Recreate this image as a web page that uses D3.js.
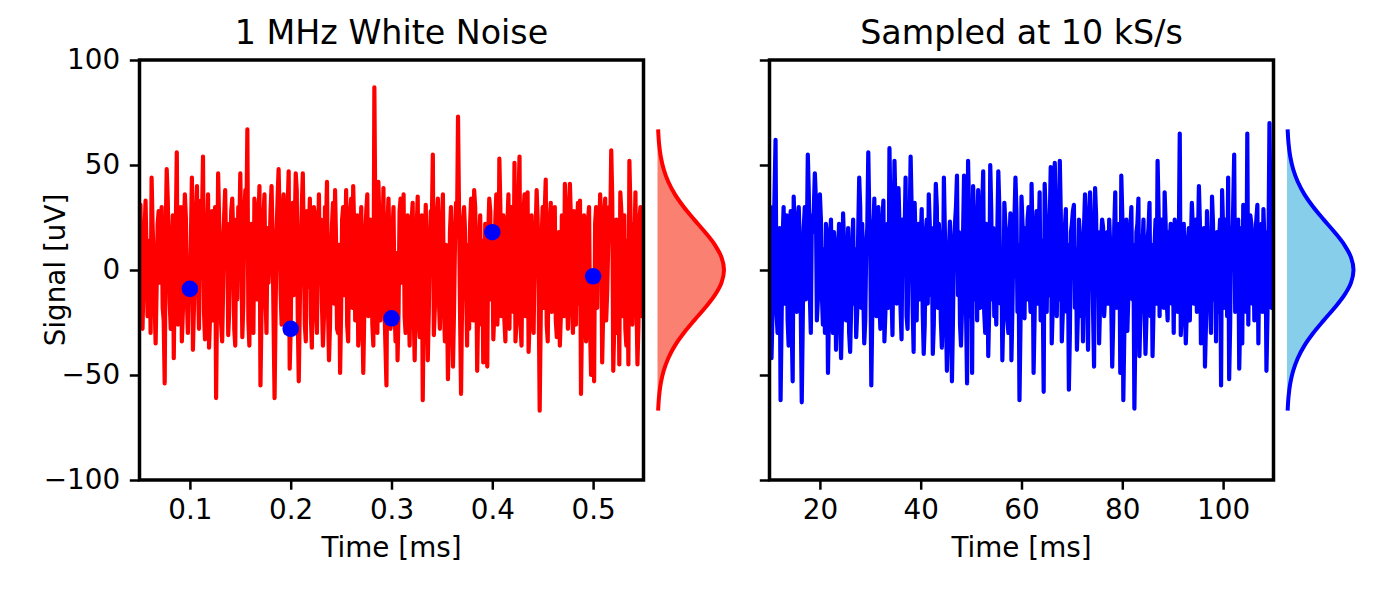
<!DOCTYPE html>
<html><head><meta charset="utf-8">
<script src="https://cdn.jsdelivr.net/npm/d3@7"></script>
<style>body{margin:0;background:#fff;} text{font-family:"DejaVu Sans",sans-serif;fill:#000;}</style>
</head><body><svg id="c" width="1400" height="600"></svg>
<script>
// ---------- data ----------
const leftTitle = "1 MHz White Noise";
const rightTitle = "Sampled at 10 kS/s";
const xLabel = "Time [ms]";
const yLabel = "Signal [uV]";

const leftStart = 0.05, leftPeriod = 0.001;   // ms
const rightStart = 10, rightPeriod = 0.2;     // ms

const leftValues = [
25,31,-12,-28,-5,18,33,8,-22,-10,
14,-30,44,21,5,-16,-35,-8,22,28,
-6,16,30,-18,-24,-54,18,48,34,6,
-16,-28,12,26,-42,2,20,56,-26,-12,
10,30,-34,-20,18,36,25,-14,-30,-4,
-9,15,44,-38,-18,22,28,40,-6,-28,
12,33,24,54,-20,-33,8,16,36,-37,
-22,12,28,-24,6,30,-61,-10,46,24,
14,-26,-34,-8,26,38,4,22,-31,-20,
8,28,34,16,-28,-36,24,-14,30,18,
46,12,-32,-16,26,38,20,67,-24,-36,
6,22,-26,-30,34,28,-14,4,24,40,
-55,-22,8,26,36,-12,-30,20,-6,8,
28,40,16,-24,-61,-20,18,34,48,26,
-10,-26,24,36,-14,-30,6,30,47,-47,
-28,18,32,-12,20,46,38,-22,-53,-18,
14,30,46,12,-26,-34,28,-8,16,34,
-22,-37,14,30,26,-20,-30,10,36,-6,
24,-16,-36,-22,30,20,42,-18,-43,-26,
8,22,32,-16,38,14,-28,-30,12,-49,
-20,24,30,-12,8,38,-26,-34,10,28,
34,-18,40,20,-24,6,26,-36,-28,10,
30,-16,-49,-20,18,28,36,-22,-8,24,
14,-26,-36,87,20,-14,-30,42,22,-24,
28,10,39,-18,-36,-55,22,34,12,-28,
-23,18,30,-16,-34,8,-43,-20,28,34,
-6,12,36,-22,-30,16,26,-14,-36,10,
24,32,-20,-43,-10,20,35,-24,-32,18,
26,-62,-14,12,31,-10,-43,-20,14,28,
22,55,-31,-18,10,26,34,-14,-28,16,
24,36,-18,-34,12,-10,-52,-26,18,30,
6,-46,-20,14,32,20,73,28,-20,-59,
-16,24,30,18,-8,-36,12,-28,22,34,
16,-24,38,30,8,-48,-18,12,26,-26,
14,-44,-30,22,10,-46,18,34,28,-14,
18,-33,-20,24,36,-26,-12,53,30,-22,
8,26,-24,-34,16,22,36,-28,12,30,
20,-20,51,-34,-24,18,34,54,-26,-36,
10,28,36,-22,14,37,-39,-24,20,26,
-20,-30,12,18,38,24,-10,-67,-24,16,
30,-18,28,43,-26,-34,14,24,32,-20,
8,22,30,-24,-32,12,18,-36,-22,26,
16,-22,41,30,-8,-28,10,41,24,-18,
-30,28,12,-26,20,32,-16,33,-59,-22,
18,26,-14,-34,10,24,30,-28,-50,-20,
-3,-53,22,30,-18,28,14,36,20,-44,
-20,26,34,-24,-10,12,30,20,57,34,
-48,-26,18,24,-30,16,-45,37,28,-22,
12,26,-28,-36,14,-45,52,30,-12,-26,
22,10,37,-14,-45,-26,24,30,-22,18
];

const rightValues = [
18,30,-42,-20,12,36,62,-20,-30,8,
20,-62,-24,14,30,-16,10,26,-24,-36,
12,28,-26,-53,35,20,-6,-20,22,30,
14,-18,-63,-24,20,30,-14,10,55,36,
-12,-30,26,18,30,46,34,-24,-14,20,
36,24,-12,-26,10,-30,22,16,-49,-20,
14,24,-22,-30,18,10,-38,-16,6,22,
-16,-42,-20,27,12,14,-24,-10,20,-30,
-39,-18,12,24,-16,10,-32,-20,18,44,
30,-18,22,-10,-35,-24,12,20,56,26,
10,-55,-20,18,34,-6,-22,24,30,-16,
-28,16,24,33,-34,-20,14,22,-18,58,
28,-10,-31,14,52,30,-16,8,39,20,
-18,-33,24,10,16,44,-22,-28,12,20,
54,30,-18,-39,32,12,-24,16,22,-14,
14,29,-20,-40,-26,18,24,-16,36,22,
-12,20,-40,-26,14,41,30,-18,22,12,
-24,-37,-14,44,18,-20,-48,-28,10,23,
-16,-53,-24,14,22,30,45,-12,18,-26,
-36,-18,16,45,24,-20,-54,52,28,-22,
18,-49,40,26,-14,20,-24,38,12,-18,
14,30,47,-20,-30,22,16,-41,-18,50,
28,-14,20,-22,-10,-26,18,47,30,-16,
10,-43,-20,32,22,16,-24,-30,12,27,
-43,-18,14,24,44,28,-20,12,-62,-26,
35,22,10,-23,20,-14,24,30,-8,-20,
41,14,-49,-22,18,28,-16,12,37,-24,
14,-8,-58,41,26,-20,16,-12,22,49,
-35,-18,12,51,30,-22,18,-14,52,26,
-34,-20,14,20,29,-20,12,-57,-30,18,
22,28,31,-18,10,-38,-20,24,16,-22,
12,-34,20,36,18,-10,-38,22,37,24,
10,-20,-46,39,26,-12,18,-35,-16,14,
24,20,-22,-12,16,18,-16,24,12,-14,
-46,-24,20,37,-18,12,-14,22,-49,45,
26,-62,-30,16,24,-29,-12,14,20,30,
-14,12,-66,-28,18,22,34,-41,-20,16,
10,24,-16,-40,-22,14,20,32,-22,12,
-41,-18,12,24,-16,52,28,-22,16,24,
20,-18,37,22,-14,-24,18,12,22,-16,
14,-30,24,12,18,-20,10,65,-31,-18,
16,22,-18,-35,-20,14,20,-24,12,32,
20,-16,18,24,-20,12,40,22,-35,16,
-22,20,-46,-26,28,12,18,-16,-30,35,
22,-14,12,-34,18,-20,14,24,-55,38,
20,-18,24,16,-22,44,-52,-26,20,12,
30,55,-20,18,-16,24,-47,-22,20,-35,
31,22,18,-20,65,-26,14,26,22,-16,
12,-24,18,24,31,-35,16,-14,22,-20,
29,14,18,-48,-22,12,70,26,-18,-12
];

const dotTimes = [0.1, 0.2, 0.3, 0.4, 0.5];
const dotValues = [-9, -28, -23, 18, -3];

const yTicks = [-100, -50, 0, 50, 100];
const leftXTicks = [0.1, 0.2, 0.3, 0.4, 0.5];
const rightXTicks = [20, 40, 60, 80, 100];

// side density profile (relative), sampled at signal levels
const densityLevels = [-66,-60,-54,-48,-42,-36,-30,-24,-18,-12,-6,0,6,12,18,24,30,36,42,48,54,60,66];
const densityValues = [0.011,0.024,0.049,0.093,0.162,0.262,0.395,0.552,0.716,0.862,0.963,1,0.963,0.862,0.716,0.552,0.395,0.262,0.162,0.093,0.049,0.024,0.011];

// ---------- drawing ----------
const svg = d3.select("#c");
const FS = 27.8, TFS = 33.3;
const axTop = 60, axBottom = 480;
const yScale = d3.scaleLinear().domain([-100, 100]).range([axBottom, axTop]);
const fmt = v => String(+v.toFixed(3)).replace("-", "\u2212");

function panel(o) {
  const x = d3.scaleLinear().domain(o.domain).range([o.x0, o.x1]);
  const y = yScale;
  const g = svg.append("g");
  const cid = "clip" + o.id;
  svg.append("clipPath").attr("id", cid).append("rect")
    .attr("x", o.x0).attr("y", axTop).attr("width", o.x1 - o.x0).attr("height", axBottom - axTop);

  const line = d3.line().x((d, i) => x(o.start + i * o.period)).y(d => y(d));
  g.append("path").datum(o.values).attr("d", line)
    .attr("fill", "none").attr("stroke", o.color).attr("stroke-width", 4.2)
    .attr("stroke-linejoin", "round").attr("stroke-linecap", "square")
    .attr("clip-path", `url(#${cid})`);

  if (o.dots) {
    g.selectAll("circle.dot").data(o.dots).join("circle")
      .attr("cx", d => x(d[0])).attr("cy", d => y(d[1])).attr("r", 8.3).attr("fill", "#0000ff");
  }

  const ax = g.append("g").attr("transform", `translate(0,${axBottom})`)
    .call(d3.axisBottom(x).tickValues(o.xTicks).tickSize(9.7).tickPadding(9.7).tickFormat(fmt));
  const ay = g.append("g").attr("transform", `translate(${o.x0},0)`)
    .call(d3.axisLeft(y).tickValues(yTicks).tickSize(9.7).tickPadding(9.7).tickFormat(o.yLabels ? fmt : () => ""));
  [ax, ay].forEach(a => {
    a.select(".domain").remove();
    a.selectAll(".tick line").attr("stroke", "#000").attr("stroke-width", 2.5);
    a.selectAll(".tick text").style("font-size", FS + "px").style("font-family", "DejaVu Sans").attr("fill", "#000");
  });
  g.append("rect").attr("x", o.x0).attr("y", axTop).attr("width", o.x1 - o.x0).attr("height", axBottom - axTop)
    .attr("fill", "none").attr("stroke", "#000").attr("stroke-width", 3.5);

  g.append("text").attr("x", (o.x0 + o.x1) / 2).attr("y", 43.5).attr("text-anchor", "middle")
    .style("font-size", TFS + "px").text(o.title);
  g.append("text").attr("x", (o.x0 + o.x1) / 2).attr("y", 557).attr("text-anchor", "middle")
    .style("font-size", FS + "px").text(xLabel);
  if (o.yLabels) {
    g.append("text").attr("transform", `translate(65,${y(0)}) rotate(-90)`).attr("text-anchor", "middle")
      .style("font-size", FS + "px").text(yLabel);
  }

  const xd = d3.scaleLinear().domain([0, 1]).range([o.d0, o.d0 + 66.5]);
  const pts = densityLevels.map((l, i) => [l, densityValues[i]]);
  const area = d3.area().curve(d3.curveCatmullRom).y(d => y(d[0])).x0(xd(0)).x1(d => xd(d[1]));
  g.append("path").datum(pts).attr("d", area).attr("fill", o.fill);
  const dl = d3.line().curve(d3.curveCatmullRom).y(d => y(d[0])).x(d => xd(d[1]));
  g.append("path").datum(pts).attr("d", dl).attr("fill", "none").attr("stroke", o.color)
    .attr("stroke-width", 4).attr("stroke-linecap", "square");
}

panel({id: "L", x0: 139.5, x1: 643.5, domain: [0.05, 0.55], start: leftStart, period: leftPeriod,
  values: leftValues, color: "#ff0000", fill: "#fa8072", title: leftTitle, xTicks: leftXTicks,
  yLabels: true, d0: 657.5, dots: dotTimes.map((t, i) => [t, dotValues[i]])});
panel({id: "R", x0: 769.5, x1: 1273.5, domain: [10, 110], start: rightStart, period: rightPeriod,
  values: rightValues, color: "#0000ff", fill: "#87ceeb", title: rightTitle, xTicks: rightXTicks,
  yLabels: false, d0: 1287});
</script></body></html>
